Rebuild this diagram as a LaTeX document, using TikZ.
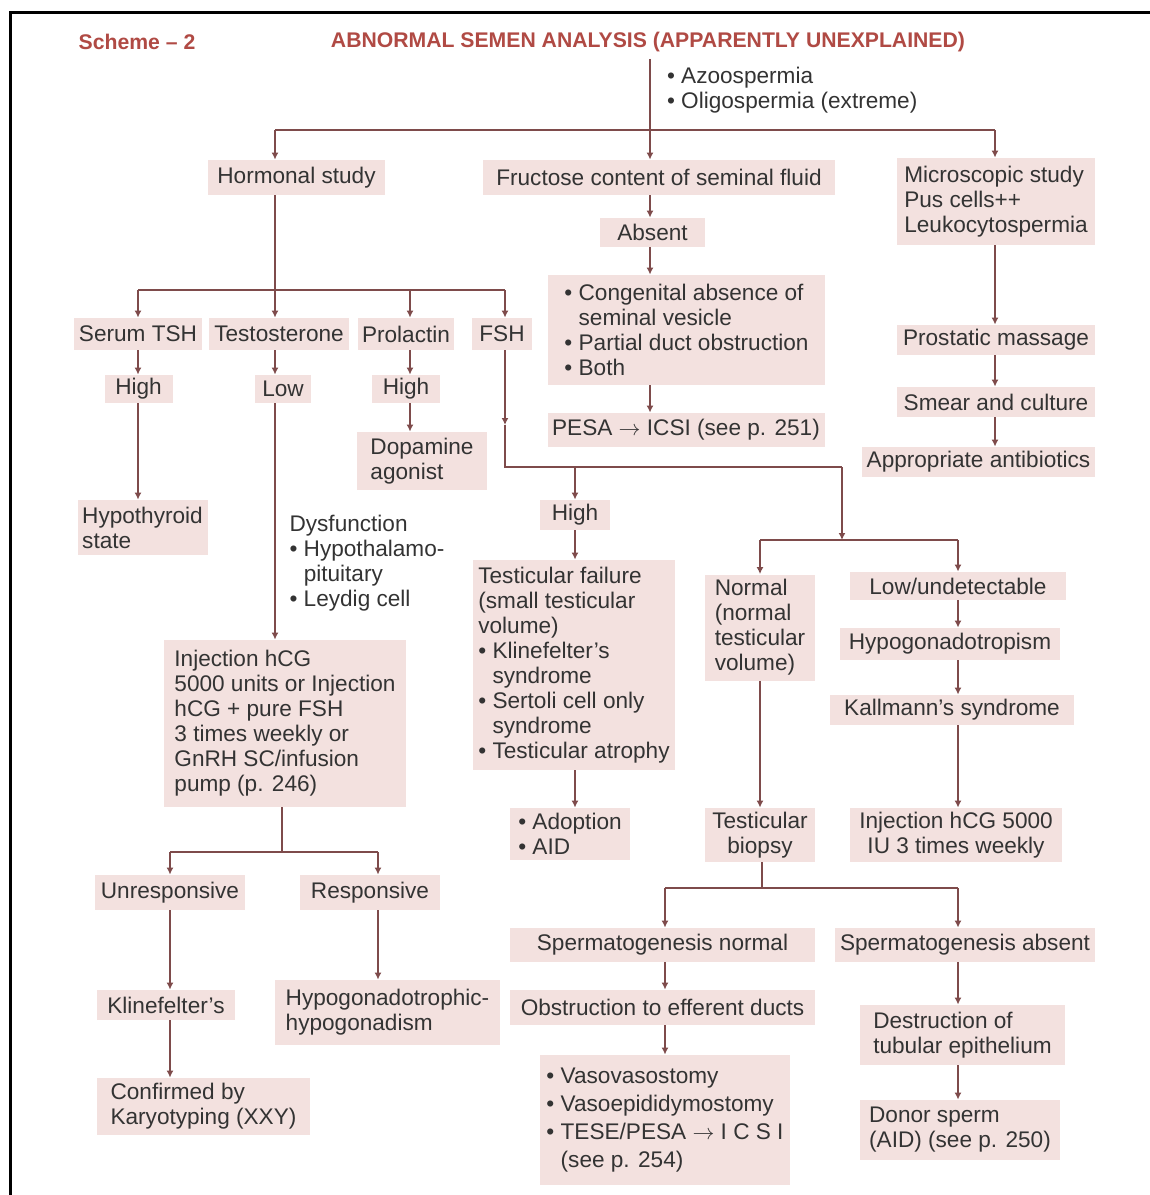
\documentclass[tikz,border=0pt]{standalone}
\usepackage{fontspec}
\setmainfont{Liberation Sans}
\usetikzlibrary{arrows.meta}
\definecolor{boxc}{HTML}{F3E1DF}
\definecolor{linec}{HTML}{7E4B4B}
\definecolor{txtc}{HTML}{333333}
\definecolor{titc}{HTML}{B04A44}
\newcommand\fs{\fontsize{11.3}{12.5}\selectfont}
\newcommand\ttl{\fontsize{10.6}{12}\selectfont\bfseries}
\newcommand\bul{\textbullet\ }
\newcommand\ind{\phantom{\textbullet\ }}
\begin{document}
\begin{tikzpicture}[x=0.5pt,y=-0.5pt,
  bx/.style={fill=boxc, text=txtc, font=\fs, inner xsep=2pt, inner ysep=0pt, align=center},
  lbx/.style={bx, align=left},
  plain/.style={text=txtc, font=\fs, align=left},
  ln/.style={draw=linec, line width=1pt},
  arr/.style={ln, -{Latex[length=3.5pt,width=3.5pt]}}]
\useasboundingbox (0,0) rectangle (1150,1195);
\draw[line width=1.5pt, black] (10,1195) -- (10,12) -- (1150,12);

% title
\node[font=\ttl, text=titc] (title) at (648,42) {ABNORMAL SEMEN ANALYSIS (APPARENTLY UNEXPLAINED)};
\node[font=\ttl, text=titc] (scheme) at (137,42) {Scheme -- 2};
\node[plain, anchor=west] (azo) at (660,90.5) {\bul Azoospermia\\\bul Oligospermia (extreme)};

% top level
\node[bx, minimum width=88.5pt, minimum height=17.5pt] (hs) at (296.5,177.5) {Hormonal study};
\node[bx, minimum width=176pt, minimum height=17.5pt] (fc) at (659,177.5) {Fructose content of seminal fluid};
\node[lbx, minimum width=99pt, minimum height=43.5pt, inner xsep=3.5pt] (ms) at (996,201.5) {Microscopic study\\Pus cells++\\Leukocytospermia};

\coordinate (t0) at (650,130);
\coordinate (hL) at (275,130);
\coordinate (hR) at (995,130);
\draw[ln] (title.south -| t0) -- (t0);
\draw[ln] (hL) -- (hR);
\draw[arr] (hL) -- (hs.north -| hL);
\draw[arr] (t0) -- (fc.north -| t0);
\draw[arr] (hR) -- (ms.north -| hR);

% fructose branch
\node[bx, minimum width=52.5pt, minimum height=14.5pt] (ab) at (652.5,232.5) {Absent};
\node[lbx, minimum width=138.5pt, minimum height=55pt, inner xsep=7.5pt] (cg) at (686.5,330)
  {\bul Congenital absence of\\\ind seminal vesicle\\\bul Partial duct obstruction\\\bul Both};
\node[bx, minimum width=138.5pt, minimum height=17pt] (pe) at (686,430) {PESA $\rightarrow$ ICSI (see p. 251)};
\draw[arr] (fc.south -| t0) -- (ab.north -| t0);
\draw[arr] (ab.south -| t0) -- (cg.north -| t0);
\draw[arr] (cg.south -| t0) -- (pe.north -| t0);

% microscopic branch
\node[bx, minimum width=99pt, minimum height=15pt] (pm) at (996,340) {Prostatic massage};
\node[bx, minimum width=99pt, minimum height=15pt] (sc) at (996,402) {Smear and culture};
\node[bx, minimum width=116.5pt, minimum height=15pt, inner xsep=1.75pt] (aa) at (978.5,462) {Appropriate antibiotics};
\draw[arr] (ms.south -| hR) -- (pm.north -| hR);
\draw[arr] (pm.south -| hR) -- (sc.north -| hR);
\draw[arr] (sc.south -| hR) -- (aa.north -| hR);

% hormonal row
\node[bx, minimum width=64pt, minimum height=16pt] (tsh) at (138,334) {Serum TSH};
\node[bx, minimum width=70pt, minimum height=16pt] (tes) at (279,334) {Testosterone};
\node[bx, minimum width=48pt, minimum height=16pt] (pro) at (406,334) {Prolactin};
\node[bx, minimum width=30pt, minimum height=16pt] (fsh) at (502,334) {FSH};
\coordinate (hj) at (275,290);
\coordinate (hjL) at (138,290);
\coordinate (hjP) at (410,290);
\coordinate (hjR) at (505,290);
\draw[ln] (hs.south -| hL) -- (hj);
\draw[ln] (hjL) -- (hjR);
\draw[arr] (hjL) -- (tsh.north -| hjL);
\draw[arr] (hj) -- (tes.north -| hj);
\draw[arr] (hjP) -- (pro.north -| hjP);
\draw[arr] (hjR) -- (fsh.north -| hjR);

\node[bx, minimum width=34pt, minimum height=14pt] (hi1) at (138.5,389) {High};
\node[bx, minimum width=28pt, minimum height=14pt] (low) at (283,389) {Low};
\node[bx, minimum width=34pt, minimum height=14pt] (hi2) at (406,389) {High};
\node[lbx, minimum width=65pt, minimum height=29pt] (dop) at (422,461) {Dopamine\\agonist};
\node[lbx, minimum width=65pt, minimum height=27.5pt] (hyp) at (142.5,527.5) {Hypothyroid\\state};
\node[plain, anchor=west] (dys) at (282.5,563) {Dysfunction\\\bul Hypothalamo-\\\ind pituitary\\\bul Leydig cell};
\draw[arr] (tsh.south -| hjL) -- (hi1.north -| hjL);
\draw[arr] (hi1.south -| hjL) -- (hyp.north -| hjL);
\draw[arr] (tes.south -| hj) -- (low.north -| hj);
\draw[arr] (pro.south -| hjP) -- (hi2.north -| hjP);
\draw[arr] (hi2.south -| hjP) -- (dop.north -| hjP);

\node[lbx, minimum width=121pt, minimum height=83.5pt, inner xsep=5pt] (inj) at (285,723.5)
  {Injection hCG\\5000 units or Injection\\hCG + pure FSH\\3 times weekly or\\GnRH SC/infusion\\pump (p. 246)};
\draw[arr] (low.south -| hj) -- (inj.north -| hj);

\coordinate (ij) at (282,852);
\coordinate (ijL) at (170,852);
\coordinate (ijR) at (378,852);
\node[bx, minimum width=75pt, minimum height=17.5pt] (unr) at (170,892.5) {Unresponsive};
\node[bx, minimum width=70pt, minimum height=17.5pt] (res) at (370,892.5) {Responsive};
\node[bx, minimum width=69pt, minimum height=15pt] (kli) at (166,1005) {Klinefelter's};
\node[lbx, minimum width=106.5pt, minimum height=28.5pt] (conf) at (203.5,1106.5) {Confirmed by\\Karyotyping (XXY)};
\node[lbx, minimum width=112.5pt, minimum height=32.5pt] (hypo) at (387.5,1012.5) {Hypogonadotrophic-\\hypogonadism};
\draw[ln] (inj.south -| ij) -- (ij);
\draw[ln] (ijL) -- (ijR);
\draw[arr] (ijL) -- (unr.north -| ijL);
\draw[arr] (ijR) -- (res.north -| ijR);
\draw[arr] (unr.south -| ijL) -- (kli.north -| ijL);
\draw[arr] (kli.south -| ijL) -- (conf.north -| ijL);
\draw[arr] (res.south -| ijR) -- (hypo.north -| ijR);

% FSH branch
\coordinate (fm) at (505,425);
\coordinate (fj) at (505,467);
\coordinate (fjH) at (575,467);
\coordinate (fjR) at (842,467);
\draw[arr] (fsh.south -| fj) -- (fm);
\draw[ln] (fm) -- (fj) -- (fjR);
\node[bx, minimum width=35pt, minimum height=15pt] (hi3) at (575,515) {High};
\node[lbx, minimum width=101pt, minimum height=105pt] (tf) at (574,665)
  {Testicular failure\\(small testicular\\volume)\\\bul Klinefelter's\\\ind syndrome\\\bul Sertoli cell only\\\ind syndrome\\\bul Testicular atrophy};
\node[lbx, minimum width=60pt, minimum height=26pt] (ad) at (570,834) {\bul Adoption\\\bul AID};
\draw[arr] (fjH) -- (hi3.north -| fjH);
\draw[arr] (hi3.south -| fjH) -- (tf.north -| fjH);
\draw[arr] (tf.south -| fjH) -- (ad.north -| fjH);

\coordinate (nj) at (842,540);
\coordinate (njL) at (760,540);
\coordinate (njR) at (958,540);
\draw[arr] (fjR) -- (nj);
\draw[ln] (njL) -- (njR);
\node[lbx, minimum width=55pt, minimum height=53pt] (nor) at (760,627.5) {Normal\\(normal\\testicular\\volume)};
\node[bx, minimum width=108pt, minimum height=14pt] (lu) at (958,586) {Low/undetectable};
\node[bx, minimum width=110pt, minimum height=16pt] (hg) at (950,644) {Hypogonadotropism};
\node[bx, minimum width=122pt, minimum height=15pt] (ka) at (952,710) {Kallmann's syndrome};
\node[bx, minimum width=106pt, minimum height=27pt] (ih) at (956,835) {Injection hCG 5000\\IU 3 times weekly};
\node[bx, minimum width=55pt, minimum height=27pt] (tb) at (760,835) {Testicular\\biopsy};
\draw[arr] (njL) -- (nor.north -| njL);
\draw[arr] (njR) -- (lu.north -| njR);
\draw[arr] (lu.south -| njR) -- (hg.north -| njR);
\draw[arr] (hg.south -| njR) -- (ka.north -| njR);
\draw[arr] (ka.south -| njR) -- (ih.north -| njR);
\draw[arr] (nor.south -| njL) -- (tb.north -| njL);

% biopsy branch
\coordinate (bj) at (762,888);
\coordinate (bjL) at (665,888);
\coordinate (bjR) at (958,888);
\draw[ln] (tb.south -| bj) -- (bj);
\draw[ln] (bjL) -- (bjR);
\node[bx, minimum width=152.5pt, minimum height=17pt] (sn) at (662.5,945) {Spermatogenesis normal};
\node[bx, minimum width=130pt, minimum height=17pt] (sa) at (965,945) {Spermatogenesis absent};
\node[bx, minimum width=152.5pt, minimum height=17.5pt] (ob) at (662.5,1007.5) {Obstruction to efferent ducts};
\node[lbx, font=\fontsize{11.3}{14}\selectfont, minimum width=125pt, minimum height=65pt] (vl) at (665,1120)
  {\bul Vasovasostomy\\\bul Vasoepididymostomy\\\bul TESE/PESA $\rightarrow$ I C S I\\\ind (see p. 254)};
\node[lbx, minimum width=102.5pt, minimum height=30pt] (de) at (962.5,1035) {Destruction of\\tubular epithelium};
\node[lbx, minimum width=100pt, minimum height=30pt] (ds) at (960,1130) {Donor sperm\\(AID) (see p. 250)};
\draw[arr] (bjL) -- (sn.north -| bjL);
\draw[arr] (bjR) -- (sa.north -| bjR);
\draw[arr] (sn.south -| bjL) -- (ob.north -| bjL);
\draw[arr] (ob.south -| bjL) -- (vl.north -| bjL);
\draw[arr] (sa.south -| bjR) -- (de.north -| bjR);
\draw[arr] (de.south -| bjR) -- (ds.north -| bjR);
\end{tikzpicture}
\end{document}
